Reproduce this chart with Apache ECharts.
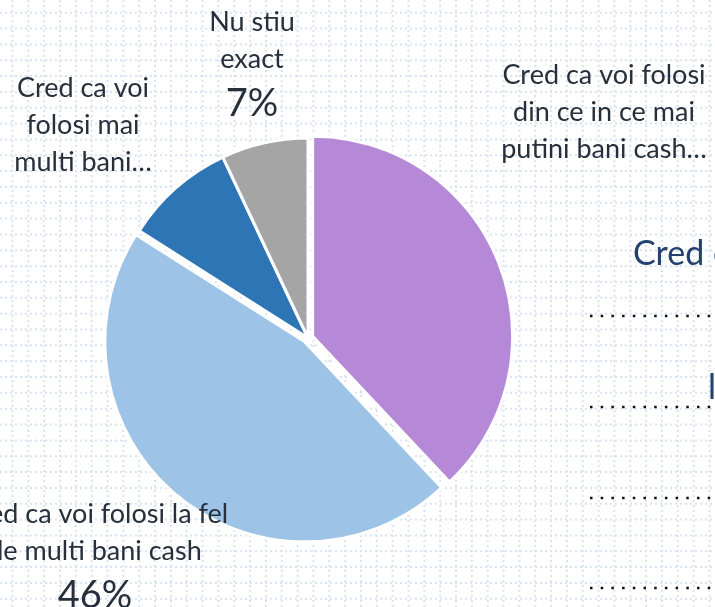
<!DOCTYPE html>
<html>
<head>
<meta charset="utf-8">
<script src="https://cdn.jsdelivr.net/npm/echarts@6/dist/echarts.min.js"></script>
<style>
  html, body { margin: 0; padding: 0; background: #fff; }
  #chart { width: 715px; height: 607px; }
</style>
</head>
<body>
<div id="chart"></div>
<script>
// categories, values, shown label text
var categories = [
  'Cred ca voi folosi din ce in ce mai putini bani cash',
  'Cred ca voi folosi la fel de multi bani cash',
  'Cred ca voi folosi mai multi bani cash',
  'Nu stiu exact'
];
var values = [38, 46, 9, 7];
var colors = ['#b689d8', '#9dc3e6', '#2e75b6', '#a5a5a5'];
var labelLines = [
  ['Cred ca voi folosi', 'din ce in ce mai', 'putini bani cash…'],
  ['Cred ca voi folosi la fel', 'de multi bani cash'],
  ['Cred ca voi', 'folosi mai', 'multi bani…'],
  ['Nu stiu', 'exact']
];
var showPercent = [false, true, false, true];
var exploded = [true, true, false, false];

// label anchor (center x, top y)
var labelPos = [[604, 57], [95, 496], [83, 70], [252, 4]];

var CENTER = [308, 338];
var RADIUS = 200;
var EXPLODE = 5;

var FONT = 'Lato, "Open Sans", sans-serif';
var TEXT = '#262f3a';

var chart = echarts.init(document.getElementById('chart'));

// background dotted grid (slide decoration)
var bg = [];
for (var gx = 12.5; gx < 715; gx += 15.84) {
  bg.push({ type: 'line', z: -10, silent: true,
    shape: { x1: gx, y1: 0, x2: gx, y2: 607 },
    style: { stroke: '#d9e4f2', lineWidth: 2, lineDash: [2, 3] } });
}
for (var gy = 12.7; gy < 607; gy += 15.84) {
  bg.push({ type: 'line', z: -10, silent: true,
    shape: { x1: 0, y1: gy, x2: 715, y2: gy },
    style: { stroke: '#d9e4f2', lineWidth: 2, lineDash: [2, 3] } });
}
// legend fragment on the right
[316, 407, 498, 588].forEach(function (y) {
  bg.push({ type: 'line', z: -5, silent: true,
    shape: { x1: 590, y1: y, x2: 715, y2: y },
    style: { stroke: '#111', lineWidth: 2.5, lineDash: [2.5, 8.2] } });
});
bg.push({ type: 'text', z: -5, left: 633, top: 237,
  style: { text: 'Cred ca', font: '34px ' + FONT, fill: '#23406e' } });
bg.push({ type: 'text', z: -5, left: 708, top: 371,
  style: { text: 'la fel', font: '34px ' + FONT, fill: '#23406e' } });

var total = values.reduce(function (a, b) { return a + b; }, 0);

// one pie layer per exploded slice, shifted along the slice's mid angle
function pieLayer(own, center, withLabels) {
  return {
    type: 'pie',
    center: center,
    radius: RADIUS,
    startAngle: 90,
    clockwise: true,
    silent: !withLabels,
    emphasis: { disabled: true },
    labelLine: { show: false },
    label: withLabels ? {
      show: true,
      position: 'outside',
      overflow: 'none',
      formatter: function (p) {
        var s = labelLines[p.dataIndex].map(function (t) { return '{n|' + t + '}'; }).join('\n');
        if (showPercent[p.dataIndex]) s += '\n{p|' + Math.round(p.percent) + '%}';
        return s;
      },
      rich: {
        n: { fontFamily: FONT, fontSize: 27, lineHeight: 37, color: TEXT, align: 'center' },
        p: { fontFamily: FONT, fontSize: 38, lineHeight: 52, color: TEXT, align: 'center' }
      }
    } : { show: false },
    labelLayout: withLabels ? function (params) {
      var pos = labelPos[params.dataIndex];
      return { x: pos[0], y: pos[1], align: 'center', verticalAlign: 'top' };
    } : null,
    data: categories.map(function (c, i) {
      var mine = own(i);
      return {
        name: c, value: values[i],
        itemStyle: mine
          ? { color: colors[i], borderColor: '#ffffff', borderWidth: 3 }
          : { color: 'rgba(0,0,0,0)', borderWidth: 0 }
      };
    })
  };
}

var series = [pieLayer(function (i) { return !exploded[i]; }, CENTER, true)];
var acc = 0;
values.forEach(function (v, i) {
  var mid = (acc + v / 2) / total * 2 * Math.PI;
  acc += v;
  if (!exploded[i]) return;
  var c = [CENTER[0] + EXPLODE * Math.sin(mid), CENTER[1] - EXPLODE * Math.cos(mid)];
  series.push(pieLayer(function (j) { return j === i; }, c, false));
});

chart.setOption({
  backgroundColor: '#ffffff',
  animation: false,
  graphic: bg,
  series: series
});
</script>
</body>
</html>
